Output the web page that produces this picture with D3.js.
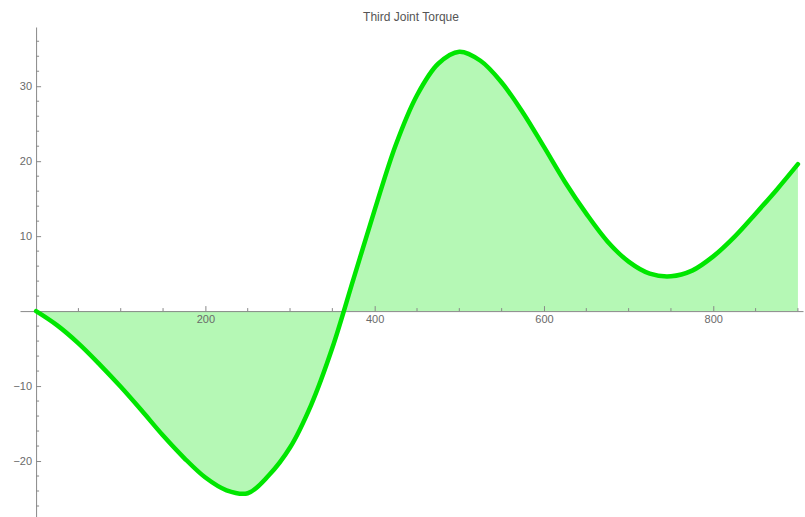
<!DOCTYPE html>
<html>
<head>
<meta charset="utf-8">
<script src="https://cdn.jsdelivr.net/npm/d3@7"></script>
<style>
  body { margin: 0; background: #fff; }
  svg { display: block; font-family: "Liberation Sans", Arial, sans-serif; }
  .axis path, .axis line { stroke: #888; }
  .axis text { fill: #6a6a6a; font-size: 11px; }
</style>
</head>
<body>
<script>
// chart values
var chartTitle = "Third Joint Torque";
var xValues = [0, 25, 50, 75, 100, 125, 150, 175, 200, 225, 250, 275, 300, 325, 350, 375,
               400, 425, 450, 475, 500, 525, 550, 575, 600, 625, 650, 675, 700, 725, 750,
               775, 800, 825, 850, 875, 900];
var torque = [0, -1.9, -4.3, -7.1, -10.1, -13.3, -16.6, -19.6, -22.2, -23.9, -24.3, -21.9, -18.2, -12.5, -4.9, 4.3,
              13.5, 22.2, 28.8, 33.0, 34.6, 33.4, 30.5, 26.5, 21.9, 17.2, 13.0, 9.3, 6.6, 5.0, 4.65,
              5.4, 7.3, 9.9, 13.0, 16.2, 19.6];
var xMajorTicks = [200, 400, 600, 800];
var yMajorTicks = [-20, -10, 10, 20, 30];

var width = 805;
var height = 517;

var data = xValues.map(function(x, i){ return {x: x, y: torque[i]}; });

var xScale = d3.scaleLinear().domain([-19, 906]).range([20, 803]);
var yScale = d3.scaleLinear().domain([-27.6, 37.9]).range([518, 27]);

var svg = d3.select("body")
    .append("svg")
    .attr("width", width)
    .attr("height", height);

var smooth = d3.curveCatmullRom.alpha(0.5);

// filling down to the axis
var area = d3.area()
    .x(function(d){ return xScale(d.x); })
    .y0(yScale(0))
    .y1(function(d){ return yScale(d.y); })
    .curve(smooth);

svg.append("path")
    .datum(data)
    .attr("d", area)
    .attr("fill", "#b5f8b5");

// axes
var xMinor = d3.range(50, 901, 50).filter(function(v){ return xMajorTicks.indexOf(v) < 0; });
var yMinor = d3.range(-26, 37, 2).filter(function(v){ return v !== 0 && yMajorTicks.indexOf(v) < 0; });

var xAxisG = svg.append("g")
    .attr("class", "axis")
    .attr("transform", "translate(0," + yScale(0) + ")")
    .call(d3.axisBottom(xScale).tickValues(xMajorTicks).tickSizeInner(-5).tickSizeOuter(0));
xAxisG.selectAll("text").attr("dy", "0.71em").attr("y", 4);

xAxisG.selectAll("line.minor")
    .data(xMinor)
    .enter()
    .append("line")
    .attr("class", "minor")
    .attr("x1", function(d){ return xScale(d); })
    .attr("x2", function(d){ return xScale(d); })
    .attr("y1", 0)
    .attr("y2", -3);

var yAxisG = svg.append("g")
    .attr("class", "axis")
    .attr("transform", "translate(" + xScale(0) + ",0)")
    .call(d3.axisLeft(yScale).tickValues(yMajorTicks).tickSizeInner(-5).tickSizeOuter(0)
        .tickFormat(function(d){ return d < 0 ? "\u2212" + Math.abs(d) : d; }));
yAxisG.selectAll("text").attr("x", -4);

yAxisG.selectAll("line.minor")
    .data(yMinor)
    .enter()
    .append("line")
    .attr("class", "minor")
    .attr("y1", function(d){ return yScale(d); })
    .attr("y2", function(d){ return yScale(d); })
    .attr("x1", 0)
    .attr("x2", 3);

// the curve
var line = d3.line()
    .x(function(d){ return xScale(d.x); })
    .y(function(d){ return yScale(d.y); })
    .curve(smooth);

svg.append("path")
    .datum(data)
    .attr("d", line)
    .attr("fill", "none")
    .attr("stroke", "#00e600")
    .attr("stroke-width", 4.5)
    .attr("stroke-linecap", "round")
    .attr("stroke-linejoin", "round");

svg.append("text")
    .attr("x", 411)
    .attr("y", 21)
    .attr("text-anchor", "middle")
    .attr("fill", "#555")
    .attr("font-size", "12px")
    .text(chartTitle);
</script>
</body>
</html>
